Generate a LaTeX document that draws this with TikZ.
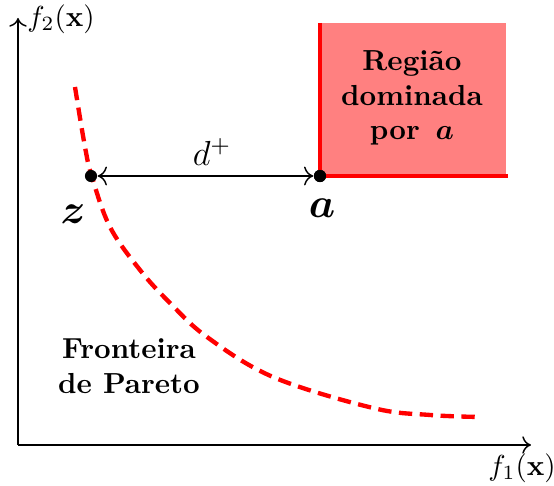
\documentclass[tikz,border=0pt]{standalone}
\usepackage{amsmath,bm}
\usetikzlibrary{arrows.meta}
\begin{document}
\begin{tikzpicture}[x=0.345pt,y=-0.345pt,
  axis/.style={line width=0.5pt,-{To[length=3pt,width=6pt]}},
  dotnode/.style={circle,fill=black,inner sep=0pt,minimum size=4.2pt},
  redline/.style={red,line width=1.1pt},
  front/.style={red,line width=1.5pt,dash pattern=on 4.6pt off 2.6pt},
  lbl/.style={inner sep=0pt,align=center,font=\bfseries}]
\useasboundingbox (0,0) rectangle (554,486);
% axes
\coordinate (O) at (18,445);
\coordinate (Ytop) at (18,18);
\coordinate (Xend) at (531,445);
\draw[axis] (O) -- (Ytop);
\draw[axis] (O) -- (Xend);
\node[inner sep=0pt] (f2) at (61,19) {$f_2(\mathbf{x})$};
\node[inner sep=0pt] (f1) at (522,468) {$f_1(\mathbf{x})$};
% dominated region
\coordinate (rtl) at (320,23);
\coordinate (rbr) at (506,176);
\fill[red!50] (rtl) rectangle (rbr);
\coordinate (rtop) at (320,23);
\coordinate (rend) at (508,176);
\node[dotnode] (a) at (320,176) {};
\draw[redline] (rtop) -- (a.center) -- (rend);
\node[dotnode] at (a) {};
\node[lbl] (reg) at (412,98) {Região\\dominada\\por~\,$\bm{a}$};
% Pareto front
\draw[front] plot[smooth,tension=0.6] coordinates {(75,87) (85,147) (92,177) (110,227) (140,270) (170,303) (207,337) (273,377) (373,408) (430,415) (480,417)};
\node[dotnode] (z) at (91,176) {};
\draw[line width=0.5pt,{To[length=3.2pt,width=6.5pt]}-{To[length=3.2pt,width=6.5pt]}] (z) -- (a);
\node[inner sep=0pt] (d) at (212,152) {\large $d^{+}$};
\node[inner sep=0pt] (zl) at (73,214) {\Large $\bm{z}$};
\node[inner sep=0pt] (al) at (322,208) {\Large $\bm{a}$};
\node[lbl] (pf) at (129,366) {Fronteira\\de Pareto};
\end{tikzpicture}
\end{document}
